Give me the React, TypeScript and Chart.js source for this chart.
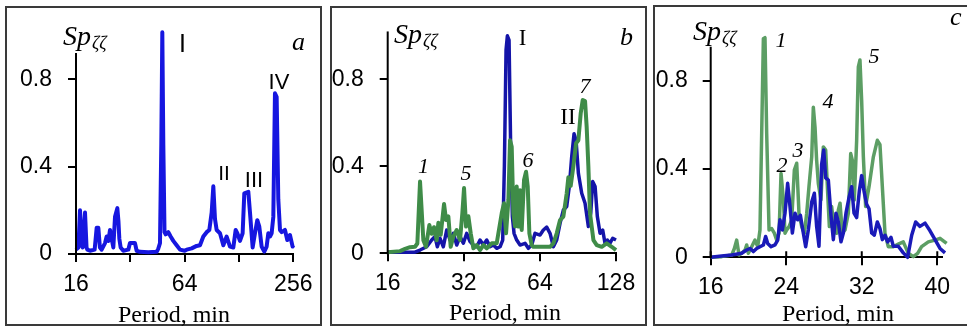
import { useEffect, useRef } from "react";
import { Chart, registerables } from "chart.js";

Chart.register(...registerables);

// ---------- data: [period (min), Sp] ----------
const panelASeries: [number, number][] = [
  [16, 0.02], [16.5, 0.03], [16.84, 0.2], [17.2, 0.04], [17.42, 0.03], [17.95, 0.19], [18.3, 0.03],
  [18.49, 0.02], [19.13, 0.015], [20.3, 0.02], [20.83, 0.12], [21.28, 0.12], [21.7, 0.03], [22.2, 0.02],
  [23.17, 0.05], [23.66, 0.08], [24.2, 0.06], [24.69, 0.11], [25.22, 0.07], [25.76, 0.03], [26.32, 0.17],
  [27.11, 0.21], [27.5, 0.15], [27.81, 0.07], [28.29, 0.03], [29.26, 0.015], [31.19, 0.02], [31.86, 0.05],
  [32.55, 0.05], [33.96, 0.05], [34.69, 0.015], [36.2, 0.01], [40.26, 0.008], [44.78, 0.01], [45.74, 0.025],
  [46.72, 0.05], [47.5, 0.5], [48.13, 1.015], [48.75, 0.5], [49.5, 0.1], [50.22, 0.09], [51.96, 0.1],
  [53.53, 0.08], [55.38, 0.06], [57.79, 0.04], [60.31, 0.02], [64, 0.015], [65.65, 0.02], [69.98, 0.026],
  [74.6, 0.037], [77.83, 0.04], [81.22, 0.08], [84.74, 0.1], [87.67, 0.11], [90.33, 0.19], [92.27, 0.31],
  [94.25, 0.16], [96.28, 0.11], [100.46, 0.095], [104.82, 0.04], [109.37, 0.08], [114.12, 0.034],
  [119.08, 0.03], [122.68, 0.11], [125.32, 0.095], [129.64, 0.06], [134.13, 0.095], [137.0, 0.278],
  [144.2, 0.285], [147.3, 0.19], [152.4, 0.03], [157.0, 0.095], [161.7, 0.155], [165.9, 0.125],
  [170.9, 0.034], [176.8, 0.011], [182.2, 0.034], [186.1, 0.095], [190.1, 0.08], [194.2, 0.095],
  [198.4, 0.17], [202.6, 0.736], [207.0, 0.72], [211.4, 0.25], [216.0, 0.11], [220.6, 0.1], [230.2, 0.11],
  [237.1, 0.064], [245.3, 0.087], [253.8, 0.034], [256, 0.04],
];

const panelBGreen: [number, number][] = [
  [16, 0.005], [17.9, 0.01], [18.74, 0.02], [19.61, 0.028], [20.52, 0.03], [20.96, 0.045], [21.48, 0.33],
  [22.14, 0.06], [22.68, 0.03], [23.38, 0.13], [23.89, 0.09], [24.4, 0.12], [25.0, 0.06], [25.38, 0.14],
  [25.93, 0.085], [26.73, 0.227], [27.22, 0.153], [27.8, 0.17], [28.4, 0.03], [29.1, 0.077], [30.0, 0.107],
  [30.92, 0.061], [31.58, 0.184], [32.07, 0.3], [32.66, 0.123], [33.36, 0.17], [34.08, 0.092], [34.92, 0.023],
  [35.99, 0.038], [37.1, 0.015], [38.25, 0.038], [39.43, 0.023], [41.26, 0.046], [43.19, 0.046], [45.2, 0.184],
  [46.17, 0.23], [47.02, 0.092], [48.03, 0.245], [48.76, 0.52], [49.51, 0.49], [50.26, 0.184], [51.03, 0.123],
  [51.81, 0.307], [52.61, 0.123], [53.41, 0.29], [54.23, 0.107], [55.39, 0.337], [56.41, 0.375], [57.28, 0.307],
  [58.15, 0.092], [59.4, 0.038], [60.31, 0.03], [64.08, 0.03], [70.19, 0.03], [72.36, 0.046], [74.59, 0.092],
  [76.89, 0.153], [79.26, 0.169], [81.7, 0.276], [82.95, 0.35], [84.73, 0.31], [86.82, 0.4], [88.96, 0.506],
  [90.87, 0.52], [92.82, 0.644], [94.52, 0.705], [96.56, 0.7], [98.0, 0.58], [99.52, 0.4], [101.0, 0.184],
  [104.2, 0.061], [107.4, 0.038], [112.4, 0.03], [117.6, 0.046], [123.1, 0.03], [128, 0.015],
];

const panelBBlue: [number, number][] = [
  [16, 0.005], [20.52, 0.005], [21.48, 0.015], [22.82, 0.03], [23.89, 0.061], [24.62, 0.077], [25.15, 0.03],
  [25.77, 0.069], [26.56, 0.03], [27.38, 0.107], [28.23, 0.061], [29.1, 0.092], [30.0, 0.038], [30.92, 0.077],
  [31.87, 0.046], [32.86, 0.092], [33.87, 0.054], [34.92, 0.038], [35.99, 0.03], [37.1, 0.061], [38.25, 0.038],
  [39.43, 0.061], [40.64, 0.03], [41.89, 0.038], [43.19, 0.023], [44.52, 0.03], [45.61, 0.061], [46.31, 0.4],
  [47.02, 0.935], [47.59, 1.0], [48.32, 0.98], [49.06, 0.475], [49.81, 0.169], [50.57, 0.092], [51.81, 0.061],
  [53.41, 0.038], [55.9, 0.046], [57.62, 0.023], [59.4, 0.038], [61.23, 0.092], [64.08, 0.084], [66.05, 0.107],
  [68.09, 0.12], [70.19, 0.092], [72.36, 0.03], [74.59, 0.061], [76.89, 0.138], [79.26, 0.199], [81.7, 0.215],
  [83.71, 0.31], [85.51, 0.444], [87.35, 0.55], [88.96, 0.52], [90.87, 0.368], [93.67, 0.276], [96.56, 0.23],
  [99.52, 0.123], [101.7, 0.184], [103.5, 0.33], [105.8, 0.307], [108.0, 0.169], [110.7, 0.092], [113.4, 0.107],
  [115.8, 0.046], [118.3, 0.061], [121.2, 0.046], [124.2, 0.069], [128, 0.061],
];

const panelCGreen: [number, number][] = [
  [16, 0], [17.16, 0.003], [18.22, 0.01], [18.51, 0.04], [18.75, 0.078], [19.0, 0.01], [19.28, 0.018],
  [19.64, 0.033], [19.81, 0.056], [19.99, 0.018], [20.34, 0.048], [20.69, 0.078], [20.98, 0.048], [21.22, 0.124],
  [21.4, 0.56], [21.58, 0.99], [21.75, 0.995], [21.93, 0.56], [22.18, 0.124], [22.46, 0.13], [22.74, 0.109],
  [22.99, 0.078], [23.24, 0.109], [23.45, 0.38], [23.7, 0.26], [23.87, 0.109], [24.05, 0.124], [24.3, 0.139],
  [24.58, 0.169], [24.86, 0.395], [25.11, 0.426], [25.35, 0.2], [25.64, 0.139], [25.92, 0.109], [26.17, 0.2],
  [26.41, 0.32], [26.7, 0.455], [26.87, 0.68], [27.05, 0.59], [27.22, 0.44], [27.4, 0.335], [27.68, 0.26],
  [27.93, 0.5], [28.18, 0.486], [28.39, 0.29], [28.57, 0.139], [28.81, 0.23], [29.1, 0.124], [29.34, 0.109],
  [29.52, 0.215], [29.7, 0.245], [29.94, 0.109], [30.23, 0.124], [30.58, 0.2], [30.83, 0.47], [31.0, 0.44],
  [31.21, 0.26], [31.46, 0.53], [31.64, 0.863], [31.81, 0.894], [31.99, 0.71], [32.17, 0.456], [32.41, 0.23],
  [32.77, 0.32], [33.23, 0.455], [33.65, 0.53], [33.93, 0.51], [34.18, 0.32], [34.46, 0.109], [34.81, 0.048],
  [35.34, 0.048], [35.87, 0.06], [36.4, 0.07], [36.93, 0.018], [37.46, 0.003], [37.92, 0.018], [38.34, 0.048],
  [39.05, 0.07], [39.76, 0.078], [40.29, 0.086], [40.99, 0.063],
];

const panelCBlue: [number, number][] = [
  [16, 0], [17.16, 0.006], [18.22, 0.01], [19.28, 0.018], [19.81, 0.033], [20.17, 0.04], [20.52, 0.026],
  [20.87, 0.04], [21.22, 0.048], [21.58, 0.056], [21.82, 0.094], [22.04, 0.063], [22.39, 0.048], [22.81, 0.056],
  [23.1, 0.078], [23.34, 0.17], [23.59, 0.124], [23.87, 0.2], [24.15, 0.335], [24.4, 0.23], [24.65, 0.11],
  [24.93, 0.2], [25.21, 0.17], [25.5, 0.19], [25.81, 0.11], [26.06, 0.048], [26.34, 0.124], [26.7, 0.25],
  [26.98, 0.29], [27.22, 0.14], [27.47, 0.05], [27.75, 0.42], [27.97, 0.486], [28.18, 0.36], [28.46, 0.35],
  [28.74, 0.19], [28.99, 0.08], [29.27, 0.2], [29.52, 0.16], [29.8, 0.07], [30.05, 0.11], [30.33, 0.2],
  [30.65, 0.27], [30.93, 0.32], [31.18, 0.2], [31.46, 0.18], [31.74, 0.3], [31.99, 0.37], [32.24, 0.3],
  [32.52, 0.24], [32.77, 0.22], [33.05, 0.11], [33.33, 0.1], [33.65, 0.16], [33.93, 0.13], [34.18, 0.08],
  [34.46, 0.1], [34.74, 0.07], [35.1, 0.09], [35.34, 0.05], [35.87, 0.05], [36.4, 0.02], [36.86, 0.0],
  [37.29, 0.1], [37.71, 0.16], [38.17, 0.14], [38.7, 0.155], [39.23, 0.12], [39.76, 0.08], [40.29, 0.04],
  [40.82, 0.02],
];

const yTicks = [0, 0.4, 0.8];
const aXTicks = [16, 32, 64, 128, 256];
const aXLabels = [16, 64, 256];
const bXTicks = [16, 32, 64, 128];
const cXTicks = [16, 24, 32, 40];

// ---------- layout / style ----------
const W = 967;
const H = 327;
const YW = 60;
const XH = 50;
const SERIF = '"Liberation Serif", "Times New Roman", serif';
const SANS = '"Liberation Sans", Arial, sans-serif';

type Lbl = {
  t: string; x: number; y: number; size: number; serif: boolean; italic?: boolean; align?: CanvasTextAlign;
  sub?: string; subSize?: number; subDy?: number;
};
type Series = { pts: [number, number][]; color: string; width: number };
type Panel = {
  area: { l: number; r: number; t: number; b: number };
  xType: "logarithmic" | "linear";
  xMin: number;
  xMax: number;
  xTicks: number[];
  xLabels: number[];
  yPad: number;
  yTop: number;
  upTicks: boolean;
  series: Series[];
  labels: Lbl[];
};

const spLabel = (x: number, y: number): Lbl => ({
  t: "Sp", x, y, size: 28, serif: true, italic: true, sub: "ζζ", subSize: 18, subDy: 4,
});

const panels: Panel[] = [
  {
    area: { l: 76, r: 293.3, t: 13.8, b: 254 },
    xType: "logarithmic", xMin: 16, xMax: 256, xTicks: aXTicks, xLabels: aXLabels, yPad: 16, yTop: 0.92, upTicks: false,
    series: [{ pts: panelASeries, color: "#1616e0", width: 4 }],
    labels: [
      spLabel(63, 45),
      { t: "I", x: 182.5, y: 51.5, size: 25, serif: false, align: "center" },
      { t: "II", x: 224, y: 180, size: 21, serif: false, align: "center" },
      { t: "III", x: 254, y: 187, size: 22, serif: false, align: "center" },
      { t: "IV", x: 279, y: 89, size: 22, serif: false, align: "center" },
      { t: "a", x: 292, y: 50, size: 26, serif: true, italic: true },
      { t: "Period, min", x: 174, y: 321.5, size: 24, serif: true, align: "center" },
    ],
  },
  {
    area: { l: 387.7, r: 616, t: 14.05, b: 253.3 },
    xType: "logarithmic", xMin: 16, xMax: 128, xTicks: bXTicks, xLabels: bXTicks, yPad: 16, yTop: 1.02, upTicks: false,
    series: [
      { pts: panelBGreen, color: "#3f8c48", width: 4 },
      { pts: panelBBlue, color: "#1414a8", width: 3.5 },
    ],
    labels: [
      spLabel(394, 43),
      { t: "I", x: 522.5, y: 45, size: 23, serif: true, align: "center" },
      { t: "b", x: 620, y: 45, size: 26, serif: true, italic: true },
      { t: "II", x: 568, y: 124, size: 23, serif: true, align: "center" },
      { t: "1", x: 423.5, y: 173, size: 22, serif: true, italic: true, align: "center" },
      { t: "5", x: 466, y: 180, size: 22, serif: true, italic: true, align: "center" },
      { t: "6", x: 528, y: 167, size: 22, serif: true, italic: true, align: "center" },
      { t: "7", x: 585, y: 93, size: 22, serif: true, italic: true, align: "center" },
      { t: "Period, min", x: 505, y: 320, size: 24, serif: true, align: "center" },
    ],
  },
  {
    area: { l: 710.7, r: 942, t: 14.5, b: 257.3 },
    xType: "linear", xMin: 16, xMax: 40.5, xTicks: cXTicks, xLabels: cXTicks, yPad: 15, yTop: 0.954, upTicks: true,
    series: [
      { pts: panelCBlue, color: "#1a1ab8", width: 3.5 },
      { pts: panelCGreen, color: "#5c9e64", width: 3.5 },
    ],
    labels: [
      spLabel(693, 40),
      { t: "1", x: 781, y: 47, size: 22, serif: true, italic: true, align: "center" },
      { t: "2", x: 782, y: 172, size: 22, serif: true, italic: true, align: "center" },
      { t: "3", x: 798, y: 157, size: 22, serif: true, italic: true, align: "center" },
      { t: "4", x: 828, y: 108, size: 22, serif: true, italic: true, align: "center" },
      { t: "5", x: 874, y: 63, size: 22, serif: true, italic: true, align: "center" },
      { t: "c", x: 950, y: 25, size: 26, serif: true, italic: true },
      { t: "Period, min", x: 838, y: 320.5, size: 24, serif: true, align: "center" },
    ],
  },
];

const boxes = [
  { left: 5, top: 6, width: 317, height: 320 },
  { left: 330, top: 6, width: 317, height: 320 },
  { left: 653, top: 5, width: 320, height: 321 },
];

function makeDeco(p: Panel) {
  return {
    id: "deco",
    afterDraw(chart: any) {
      const ctx = chart.ctx as CanvasRenderingContext2D;
      const xs = chart.scales.x;
      const ys = chart.scales.y;
      ctx.save();
      ctx.strokeStyle = "#000";
      ctx.lineWidth = 2;
      ctx.beginPath();
      const x0 = xs.left;
      ctx.moveTo(x0, ys.getPixelForValue(0) + 1);
      ctx.lineTo(x0, ys.getPixelForValue(p.yTop));
      ctx.stroke();
      if (p.upTicks) {
        const y0 = ys.getPixelForValue(0);
        ctx.beginPath();
        for (const v of p.xTicks) {
          const px = xs.getPixelForValue(v);
          ctx.moveTo(px, y0);
          ctx.lineTo(px, y0 - 6);
        }
        ctx.stroke();
      }
      ctx.fillStyle = "#000";
      ctx.textBaseline = "alphabetic";
      for (const l of p.labels) {
        const fam = l.serif ? SERIF : SANS;
        ctx.font = `${l.italic ? "italic " : ""}${l.size}px ${fam}`;
        ctx.textAlign = l.align || "left";
        ctx.fillText(l.t, l.x, l.y);
        if (l.sub) {
          const w = ctx.measureText(l.t).width;
          ctx.font = `italic ${l.subSize}px ${fam}`;
          ctx.textAlign = "left";
          ctx.fillText(l.sub, l.x + w + 1, l.y + (l.subDy || 0));
        }
      }
      ctx.restore();
    },
  };
}

function PanelChart({ p }: { p: Panel }) {
  const ref = useRef<HTMLCanvasElement | null>(null);
  useEffect(() => {
    if (!ref.current) return;
    const chart = new Chart(ref.current, {
      type: "line",
      data: {
        datasets: p.series.map((s) => ({
          data: s.pts.map(([x, y]) => ({ x, y })),
          borderColor: s.color,
          borderWidth: s.width,
          pointRadius: 0,
          tension: 0,
          fill: false,
          clip: false as any,
          borderJoinStyle: "round" as const,
        })),
      },
      options: {
        animation: false,
        responsive: false,
        maintainAspectRatio: false,
        events: [],
        layout: {
          padding: { left: p.area.l - YW, right: W - p.area.r, top: p.area.t, bottom: H - p.area.b - XH },
        },
        plugins: { legend: { display: false }, tooltip: { enabled: false } },
        scales: {
          x: {
            type: p.xType,
            position: "bottom",
            min: p.xMin,
            max: p.xMax,
            afterBuildTicks: (s: any) => {
              s.ticks = p.xTicks.map((v) => ({ value: v }));
            },
            afterFit: (s: any) => {
              s.height = XH;
              s.paddingLeft = 0;
              s.paddingRight = 0;
            },
            ticks: {
              autoSkip: false,
              maxRotation: 0,
              minRotation: 0,
              padding: 9,
              color: "#000",
              font: { family: SANS, size: 23 },
              callback: (v: any) => (p.xLabels.includes(Number(v)) ? String(v) : ""),
            },
            grid: { display: true, drawOnChartArea: false, drawTicks: true, tickLength: 8, color: "#000", lineWidth: 2 },
            border: { display: true, color: "#000", width: 2 },
          } as any,
          y: {
            type: "linear",
            position: "left",
            min: 0,
            max: 1.1,
            afterBuildTicks: (s: any) => {
              s.ticks = yTicks.map((v) => ({ value: v }));
            },
            afterFit: (s: any) => {
              s.width = YW;
              s.paddingTop = 0;
              s.paddingBottom = 0;
            },
            ticks: {
              padding: p.yPad,
              color: "#000",
              font: { family: SANS, size: 23 },
              callback: (v: any) => String(v),
            },
            grid: { display: true, drawOnChartArea: false, drawTicks: true, tickLength: 8, color: "#000", lineWidth: 2 },
            border: { display: false },
          } as any,
        },
      },
      plugins: [makeDeco(p)],
    } as any);
    return () => chart.destroy();
  }, [p]);
  return (
    <canvas
      ref={ref}
      width={W}
      height={H}
      style={{ position: "absolute", left: 0, top: 0, width: W, height: H, display: "block" }}
    />
  );
}

export default function App() {
  return (
    <div
      style={{
        position: "fixed",
        left: 0,
        top: 0,
        width: W,
        height: H,
        background: "#fff",
        overflow: "hidden",
      }}
    >
      {boxes.map((b, i) => (
        <div
          key={i}
          style={{
            position: "absolute",
            left: b.left,
            top: b.top,
            width: b.width,
            height: b.height,
            border: "2px solid #3a3a3a",
            boxSizing: "border-box",
          }}
        />
      ))}
      {panels.map((p, i) => (
        <PanelChart key={i} p={p} />
      ))}
    </div>
  );
}
